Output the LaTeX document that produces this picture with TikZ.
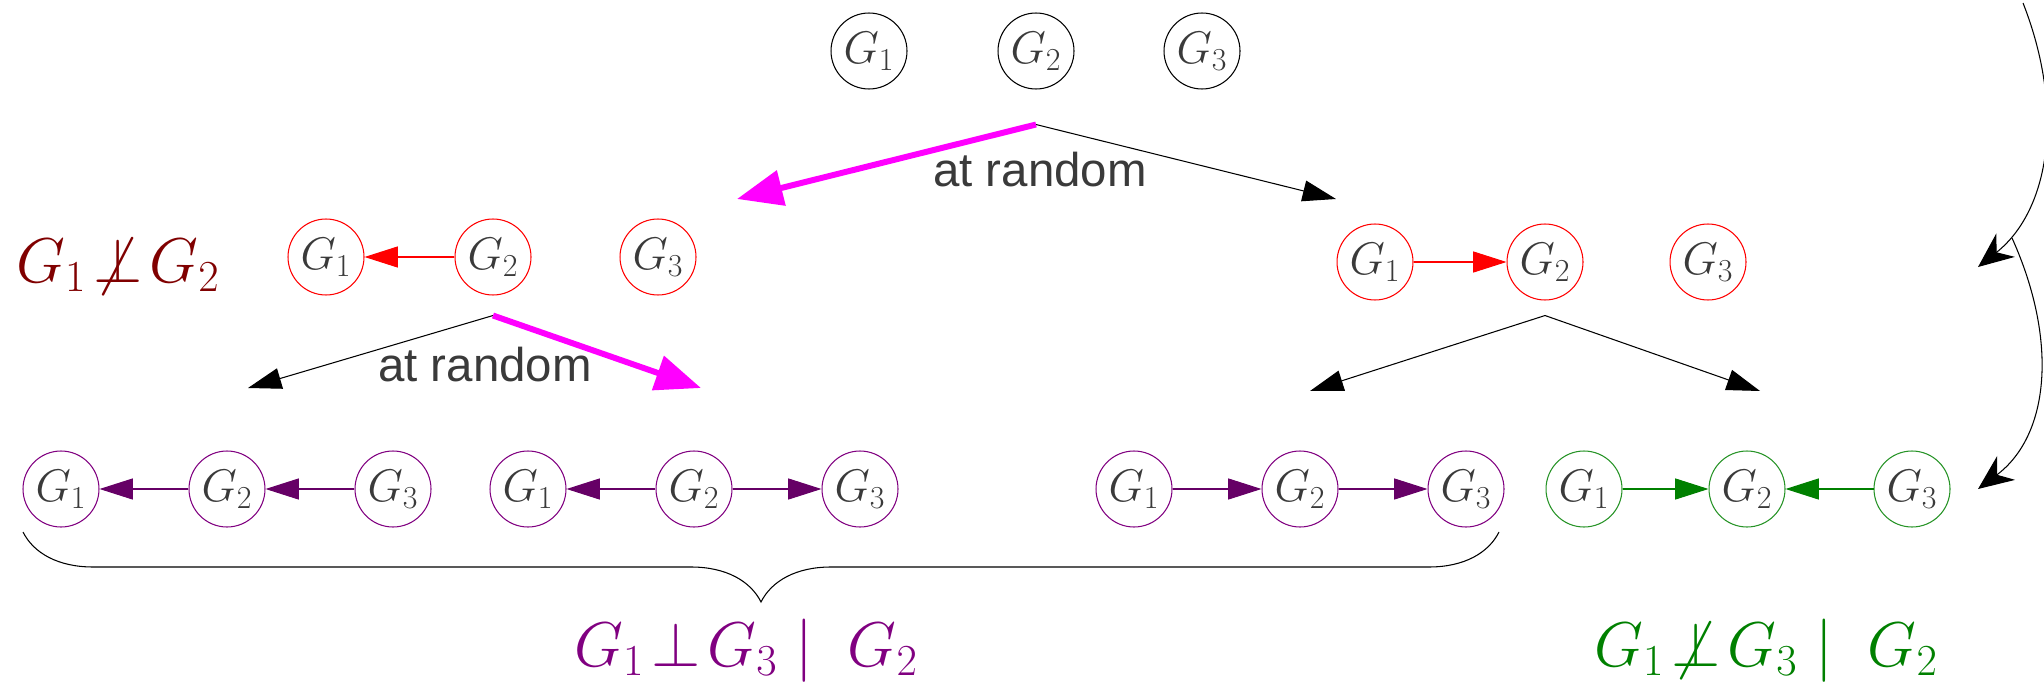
\RequirePackage{fix-cm}
\documentclass[tikz,border=0pt]{standalone}
\usepackage{amssymb}
\usepackage{fontspec}
\newfontfamily\randfont{Liberation Sans}
\usetikzlibrary{arrows.meta, positioning, calc, decorations.pathreplacing}
\definecolor{txtgray}{RGB}{58, 58, 58}
\definecolor{linkpurple}{RGB}{102, 0, 102}
\definecolor{nodepurple}{RGB}{128, 0, 128}
\definecolor{nodegreen}{RGB}{0, 128, 0}
\definecolor{lbldarkred}{RGB}{128, 0, 0}
\definecolor{pickpink}{RGB}{255, 0, 255}
\definecolor{nodered}{RGB}{255, 0, 0}

\tikzset{
  var/.style={circle, draw, line width=0.6pt, minimum size=1.52cm, inner sep=0pt,
              text=txtgray, font=\fontsize{26}{26}\selectfont},
  link/.style={-{Triangle[length=19pt, width=12pt]}, line width=0.6pt},
  branch/.style={-{Triangle[length=19pt, width=12pt]}, line width=0.6pt, black},
  pick/.style={-{Triangle[length=26pt, width=20pt]}, line width=3.4pt, pickpink},
  sidecurve/.style={-{Stealth[length=20pt, width=17pt]}, line width=0.6pt, black},
  randlbl/.style={font=\randfont\fontsize{27}{27}\selectfont, text=txtgray},
  biglbl/.style={anchor=base west, font=\fontsize{36}{36}\selectfont}
}

\begin{document}
\begin{tikzpicture}[x=0.02cm, y=-0.02cm]
  \useasboundingbox (0,0) rectangle (2044,686);

  % first row
  \foreach \i/\x in {1/869, 2/1036, 3/1202}
    \node[var] (t\i) at (\x,51) {$G_\i$};

  \coordinate (t0) at ($(t2.south)+(0,35)$);
  \coordinate (tl) at (737,199);
  \coordinate (tr) at (1336,199);
  \draw[pick] (t0) -- (tl);
  \draw[branch] (t0) -- (tr);
  \node[randlbl] (rand1) at (1040,170) {at random};

  % second row
  \foreach \i/\x in {1/326, 2/493, 3/658}
    \node[var, draw=nodered] (l\i) at (\x,257) {$G_\i$};
  \foreach \i/\x in {1/1375, 2/1545, 3/1708}
    \node[var, draw=nodered] (r\i) at (\x,262) {$G_\i$};
  \draw[link, nodered] (l2) -- (l1);
  \draw[link, nodered] (r1) -- (r2);

  \node[biglbl, text=lbldarkred] (dep12) at (10,282) {$G_1 \!\not\perp\! G_2$};

  \coordinate (l0) at ($(l2.south)+(0,20)$);
  \coordinate (ll) at (248,388);
  \coordinate (lr) at (701,388);
  \draw[branch] (l0) -- (ll);
  \draw[pick] (l0) -- (lr);
  \node[randlbl] (rand2) at (485,365) {at random};

  \coordinate (r0) at ($(r2.south)+(0,15)$);
  \coordinate (rl) at (1310,391);
  \coordinate (rr) at (1760,391);
  \draw[branch] (r0) -- (rl);
  \draw[branch] (r0) -- (rr);

  % third row
  \foreach \g/\xa in {a/61, b/528, c/1134} {
    \foreach \i in {1,2,3}
      \node[var, draw=nodepurple] (\g\i) at (\xa+166*\i-166,489) {$G_\i$};
  }
  \foreach \i/\x in {1/1584, 2/1747, 3/1912}
    \node[var, draw=nodegreen!85] (d\i) at (\x,489) {$G_\i$};

  \draw[link, linkpurple] (a2) -- (a1);
  \draw[link, linkpurple] (a3) -- (a2);
  \draw[link, linkpurple] (b2) -- (b1);
  \draw[link, linkpurple] (b2) -- (b3);
  \draw[link, linkpurple] (c1) -- (c2);
  \draw[link, linkpurple] (c2) -- (c3);
  \draw[link, nodegreen] (d1) -- (d2);
  \draw[link, nodegreen] (d3) -- (d2);

  % brace and results
  \coordinate (bl) at (23,532);
  \coordinate (br) at (1499,532);
  \draw[line width=0.6pt, decorate, decoration={brace, mirror, amplitude=1.4cm}] (bl) -- (br);

  \node[biglbl, text=nodepurple] (indep) at (568,666) {$G_1 \!\perp\! G_3 \mid\; G_2$};
  \node[biglbl, text=nodegreen] (dep13) at (1588,666) {$G_1 \!\not\perp\! G_3 \mid\; G_2$};

  % right-hand side curves
  \coordinate (k0) at (2023,3);
  \coordinate (k1) at (1978,267);
  \coordinate (k2) at (2012,238);
  \coordinate (k3) at (1978,489);
  \draw[sidecurve] (k0) .. controls (2065,110) and (2050,210) .. (k1);
  \draw[sidecurve] (k2) .. controls (2058,340) and (2050,435) .. (k3);

\end{tikzpicture}
\end{document}
